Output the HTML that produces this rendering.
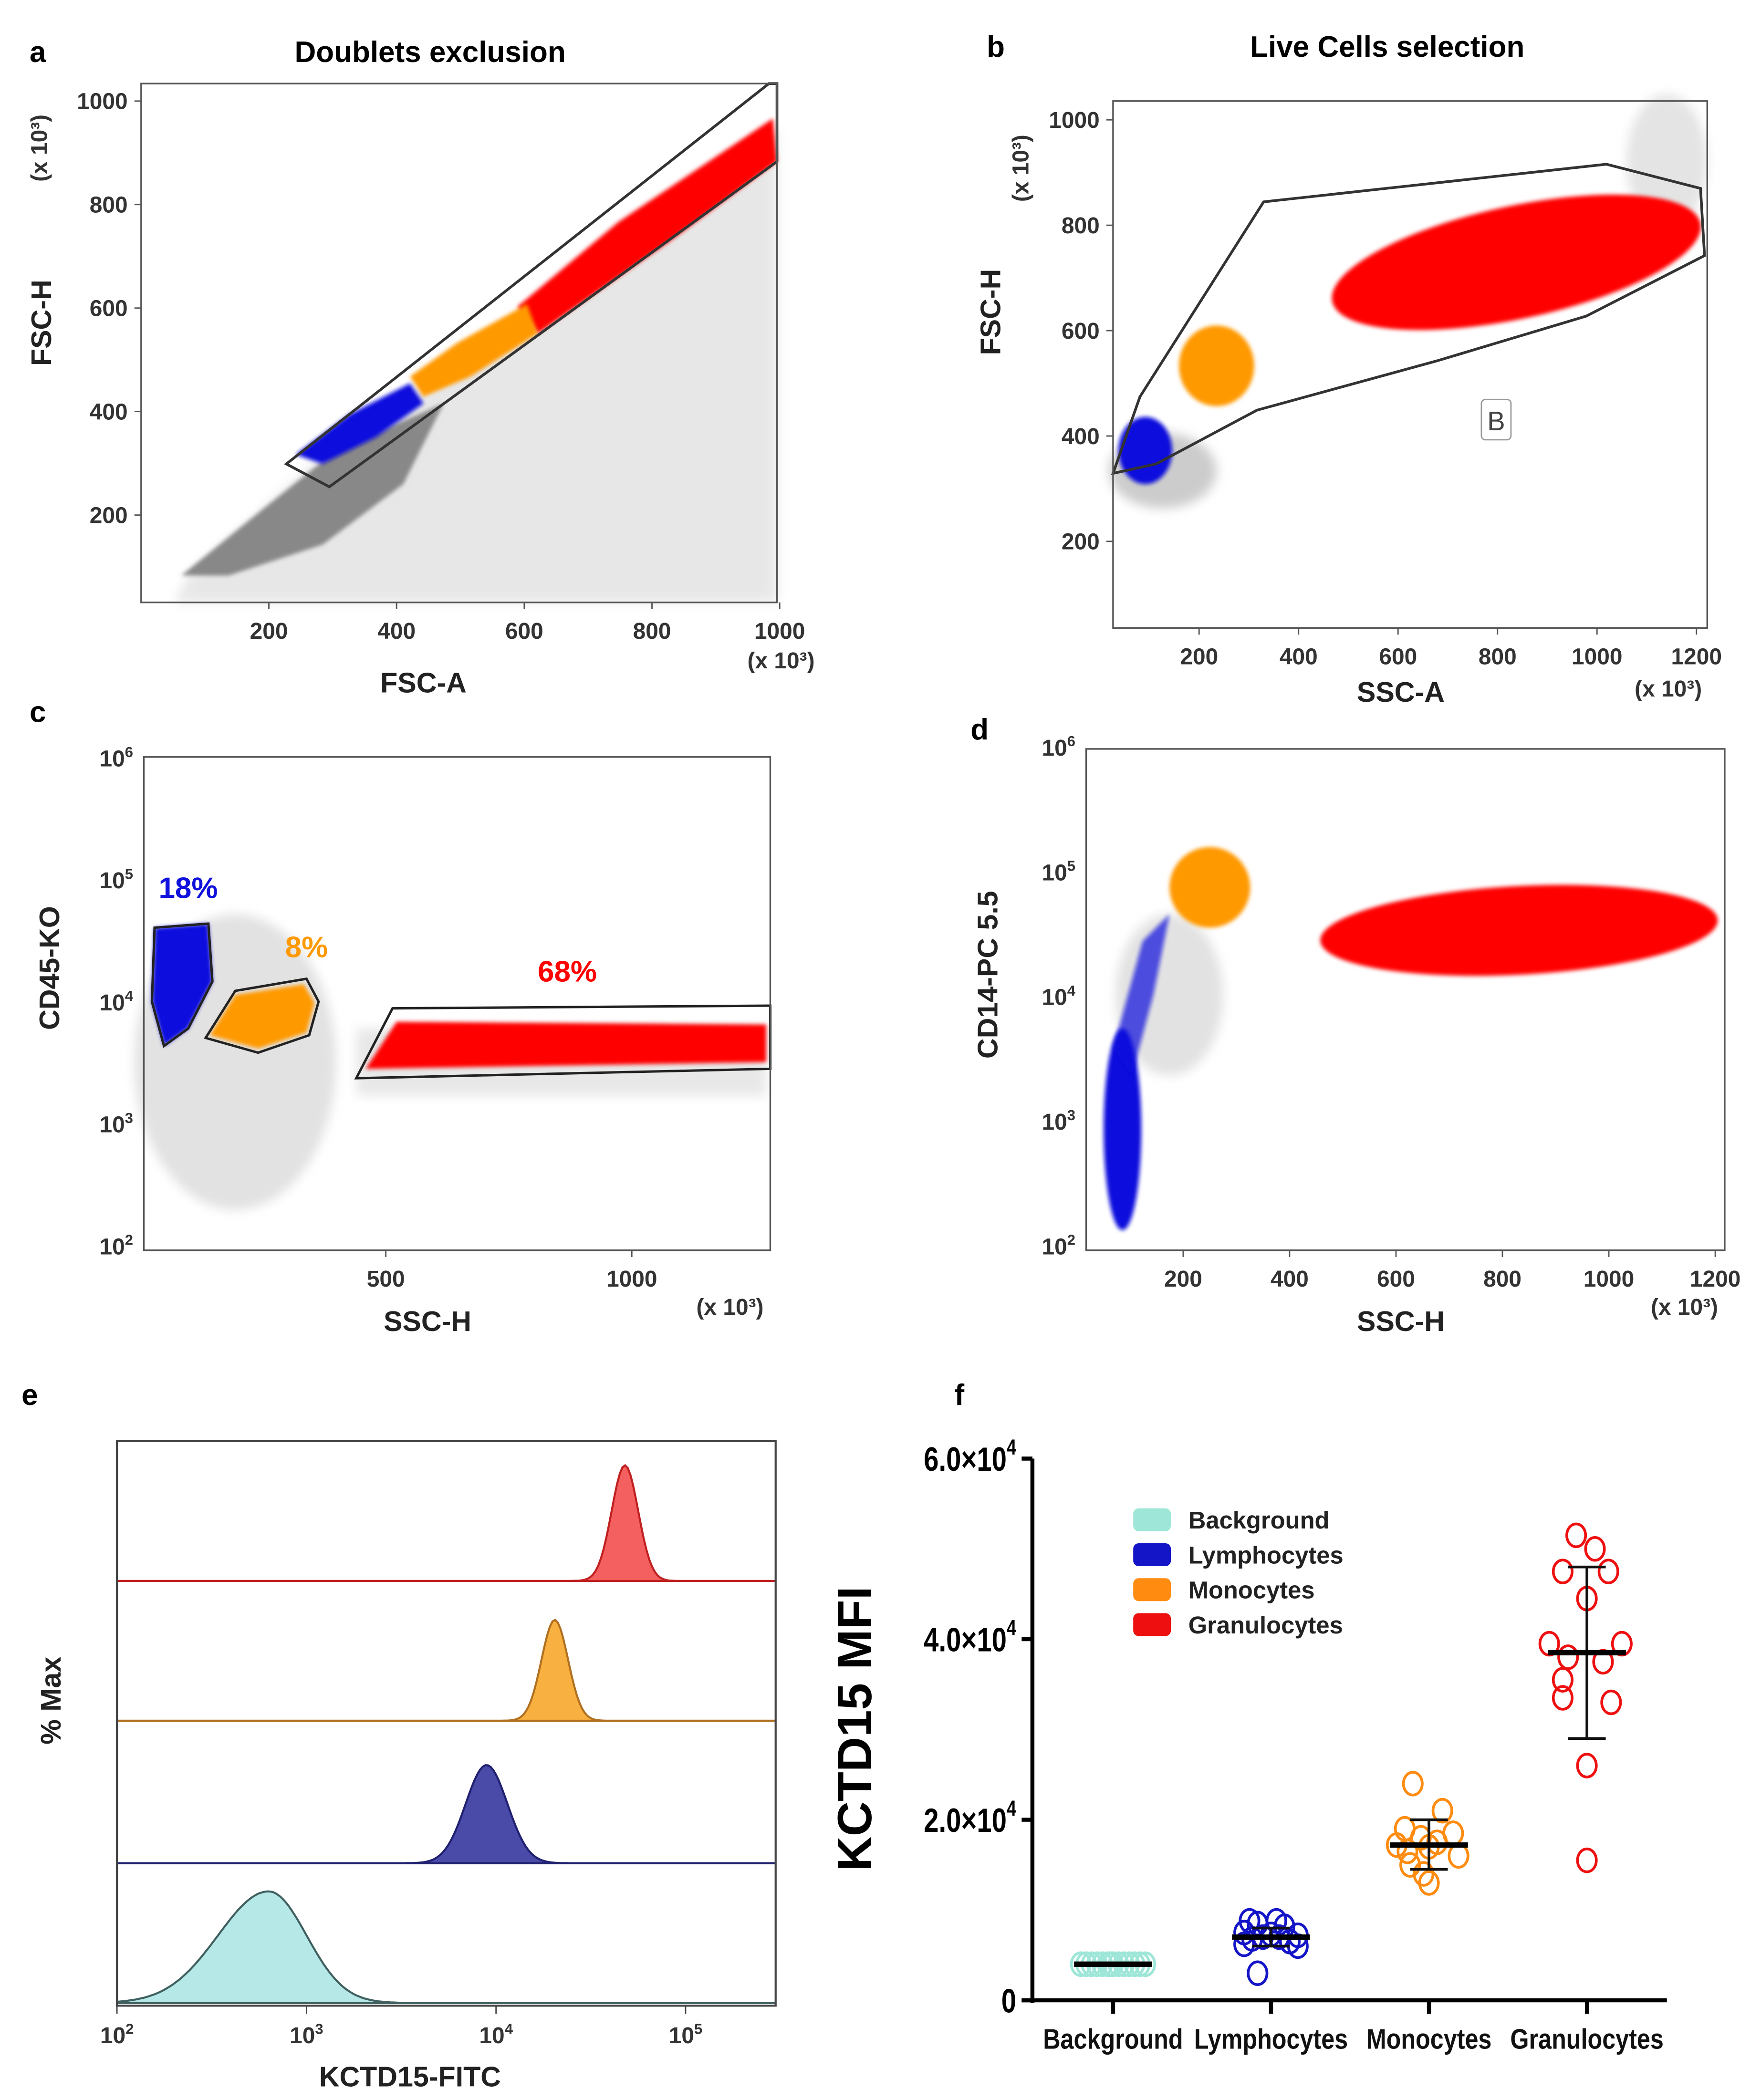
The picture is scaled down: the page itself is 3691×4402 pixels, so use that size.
<!DOCTYPE html>
<html><head><meta charset="utf-8"><style>
html,body{margin:0;padding:0;background:#fff}
svg{display:block}
text{font-family:"Liberation Sans",sans-serif}
.tk{font-size:17px;font-weight:bold;fill:#333}
.ax{font-size:21px;font-weight:bold;fill:#222}
.pl{font-size:22px;font-weight:bold;fill:#000}
</style></head><body>
<svg id="fig" width="3691" height="4402" viewBox="0 0 1310 1562" xmlns="http://www.w3.org/2000/svg">
<defs><filter id="bl" x="-20%" y="-20%" width="140%" height="140%"><feGaussianBlur stdDeviation="4"/></filter>
<filter id="bl2" x="-20%" y="-20%" width="140%" height="140%"><feGaussianBlur stdDeviation="1.5"/></filter></defs>

<!-- Panel a -->
<g>
<text class="pl" x="22" y="46">a</text>
<text class="pl" x="320" y="46" text-anchor="middle">Doublets exclusion</text>
<polygon points="140,428 250,330 400,235 578,95 578,448 130,448" fill="#ccc" opacity="0.45" filter="url(#bl)"/>
<polygon points="135,428 200,375 250,335 330,300 300,360 240,405 170,428" fill="#888" filter="url(#bl2)"/>
<polygon points="385,228 460,165 575,88 578,120 500,178 400,248" fill="#f00" filter="url(#bl2)"/>
<polygon points="305,280 340,255 392,226 400,248 350,280 315,295" fill="#f90" filter="url(#bl2)"/>
<polygon points="220,338 260,308 305,285 315,300 280,325 240,345" fill="#11d" filter="url(#bl2)"/>
<polygon points="213,345 572,62 578,62 578,120 245,362" fill="none" stroke="#333" stroke-width="2"/>
<rect x="105" y="62" width="473" height="386" fill="none" stroke="#555" stroke-width="1.2"/>
<text class="ax" x="315" y="515" text-anchor="middle">FSC-A</text>
<text class="ax" transform="translate(38,240) rotate(-90)" text-anchor="middle">FSC-H</text>
<text class="tk" transform="translate(35,110) rotate(-90)" text-anchor="middle" font-weight="normal">(x 10³)</text>
<text class="tk" x="556" y="497" font-weight="normal">(x 10³)</text>
<g id="ta"></g>
</g>

<!-- Panel b -->
<g>
<text class="pl" x="734" y="42">b</text>
<text class="pl" x="1032" y="42" text-anchor="middle">Live Cells selection</text>
<ellipse cx="865" cy="350" rx="40" ry="28" fill="#ccc" filter="url(#bl)"/>
<ellipse cx="1240" cy="120" rx="30" ry="50" fill="#e4e4e4" filter="url(#bl)"/>
<ellipse cx="1128" cy="195" rx="140" ry="42" transform="rotate(-12 1128 195)" fill="#f00" filter="url(#bl2)"/>
<ellipse cx="905" cy="272" rx="28" ry="30" fill="#f90" filter="url(#bl2)"/>
<ellipse cx="852" cy="335" rx="20" ry="25" fill="#11d" filter="url(#bl2)"/>
<polygon points="828,352 848,295 940,150 1195,122 1265,140 1268,190 1180,235 1070,268 935,305 860,345" fill="none" stroke="#333" stroke-width="2"/>
<rect x="1102" y="297" width="22" height="30" rx="3" fill="#fff" stroke="#999"/>
<text x="1113" y="320" text-anchor="middle" font-size="20" fill="#444">B</text>
<rect x="828" y="75" width="442" height="392" fill="none" stroke="#555" stroke-width="1.2"/>
<text class="ax" x="1042" y="522" text-anchor="middle">SSC-A</text>
<text class="ax" transform="translate(744,232) rotate(-90)" text-anchor="middle">FSC-H</text>
<text class="tk" transform="translate(765,125) rotate(-90)" text-anchor="middle" font-weight="normal">(x 10³)</text>
<text class="tk" x="1216" y="518" font-weight="normal">(x 10³)</text>
<g id="tb"></g>
</g>

<!-- Panel c -->
<g>
<text class="pl" x="22" y="537">c</text>
<ellipse cx="175" cy="790" rx="75" ry="110" fill="#e2e2e2" filter="url(#bl)"/>
<rect x="265" y="765" width="305" height="50" fill="#e8e8e8" filter="url(#bl)"/>
<polygon points="115,690 155,687 158,730 140,765 122,778 113,745" fill="#11d" filter="url(#bl2)"/>
<polygon points="156,770 175,740 226,732 234,746 228,768 192,780" fill="#f90" filter="url(#bl2)"/>
<polygon points="272,795 295,760 570,762 570,790" fill="#f00" filter="url(#bl2)"/>
<polygon points="115,690 155,687 158,730 140,765 122,778 113,745" fill="none" stroke="#222" stroke-width="1.8"/>
<polygon points="153,772 175,737 228,728 237,745 230,770 192,783" fill="none" stroke="#222" stroke-width="1.8"/>
<polygon points="265,802 292,750 573,748 573,795" fill="none" stroke="#222" stroke-width="1.8"/>
<text x="140" y="668" text-anchor="middle" font-size="22" font-weight="bold" fill="#11d">18%</text>
<text x="228" y="712" text-anchor="middle" font-size="22" font-weight="bold" fill="#f90">8%</text>
<text x="422" y="730" text-anchor="middle" font-size="22" font-weight="bold" fill="#f00">68%</text>
<rect x="107" y="563" width="466" height="367" fill="none" stroke="#555" stroke-width="1.2"/>
<text class="ax" x="318" y="990" text-anchor="middle">SSC-H</text>
<text class="ax" transform="translate(44,720) rotate(-90)" text-anchor="middle">CD45-KO</text>
<text class="tk" x="518" y="978" font-weight="normal">(x 10³)</text>
<g id="tc"></g>
</g>

<!-- Panel d -->
<g>
<text class="pl" x="722" y="550">d</text>
<ellipse cx="870" cy="740" rx="40" ry="60" fill="#e2e2e2" filter="url(#bl)"/>
<ellipse cx="835" cy="840" rx="14" ry="75" fill="#11d" filter="url(#bl2)"/>
<polygon points="828,780 850,700 870,680 858,740 842,800" fill="#11d" opacity="0.7" filter="url(#bl2)"/>
<ellipse cx="900" cy="660" rx="30" ry="30" fill="#f90" filter="url(#bl2)"/>
<ellipse cx="1130" cy="692" rx="148" ry="33" transform="rotate(-3 1130 692)" fill="#f00" filter="url(#bl2)"/>
<rect x="808" y="557" width="475" height="373" fill="none" stroke="#555" stroke-width="1.2"/>
<text class="ax" x="1042" y="990" text-anchor="middle">SSC-H</text>
<text class="ax" transform="translate(742,725) rotate(-90)" text-anchor="middle">CD14-PC 5.5</text>
<text class="tk" x="1228" y="978" font-weight="normal">(x 10³)</text>
<g id="td"></g>
</g>

<!-- Panel e -->
<g>
<text class="pl" x="16" y="1045">e</text>
<g id="hist"></g>
<rect x="87" y="1072" width="490" height="420" fill="none" stroke="#444" stroke-width="1.5"/>
<text class="ax" x="305" y="1552" text-anchor="middle">KCTD15-FITC</text>
<text class="ax" transform="translate(45,1265) rotate(-90)" text-anchor="middle">% Max</text>
<g id="te"></g>
</g>

<!-- Panel f -->
<g>
<text class="pl" x="710" y="1045">f</text>
<text transform="translate(648,1286) rotate(-90)" text-anchor="middle" font-size="36" font-weight="bold" fill="#000">KCTD15 MFI</text>
<g id="dots"></g>
<g id="legend"></g>
</g>
</svg>
<script>
const NS="http://www.w3.org/2000/svg";
function mk(par,tag,at,txt){const e=document.createElementNS(NS,tag);for(const k in at)e.setAttribute(k,at[k]);if(txt!==undefined)e.textContent=txt;par.appendChild(e);return e;}

const aXTicks=[200,400,600,800,1000];
const aYTicks=[200,400,600,800,1000];
const bXTicks=[200,400,600,800,1000,1200];
const bYTicks=[200,400,600,800,1000];
const cXTicks=[500,1000];
const logTicks=[2,3,4,5,6];
const dXTicks=[200,400,600,800,1000,1200];
const eXTicks=[2,3,4,5];

function linTicks(g,ticks,f,y0,isX,x0){
  ticks.forEach(v=>{const p=f(v);
    if(isX){const l=mk(g,'line',{x1:p,x2:p,y1:y0,y2:y0+5,stroke:'#555'});
      
      const t=mk(g,'text',{x:p,y:y0+27,'text-anchor':'middle',class:'tk'},v);
      }
    else{const l=mk(g,'line',{x1:x0-5,x2:x0,y1:p,y2:p,stroke:'#555'});
      
      const t=mk(g,'text',{x:x0-10,y:p+6,'text-anchor':'end',class:'tk'},v);
      }
  });
}
function logY(g,f,x0){
  logTicks.forEach(v=>{const p=f(v);
    const t=mk(g,'text',{x:x0-8,y:p+5,'text-anchor':'end',class:'tk','font-weight':'normal','font-size':'15'});
    
    mk(t,'tspan',{},'10');mk(t,'tspan',{dy:-7,'font-size':'11'},v);
  });
}
const ta=document.getElementById('ta');
linTicks(ta,aXTicks,v=>105+v*0.475,448,true);
linTicks(ta,aYTicks,v=>75+(1000-v)*0.385,0,false,105);
const tb=document.getElementById('tb');
linTicks(tb,bXTicks,v=>818+v*0.37,467,true);
linTicks(tb,bYTicks,v=>481-v*0.392,0,false,828);
const tc=document.getElementById('tc');
linTicks(tc,cXTicks,v=>104+v*0.366,930,true);
logY(tc,v=>928-(v-2)*90.75,107);
const td=document.getElementById('td');
linTicks(td,dXTicks,v=>801+v*0.3958,930,true);
logY(td,v=>928-(v-2)*92.75,808);

const histNames=['granulocytes','monocytes','lymphocytes','background'];
const histPeakLog=[4.68,4.31,3.95,2.8];
const histWidthLog=[0.07,0.07,0.11,0.2];
const histBase=[1176,1280,1386,1490];
const histHeight=[86,75,73,83];
const histFill=['#f46060','#f8b040','#4a4aa8','#b6e8e8'];
const histStroke=['#c02020','#b07020','#202070','#406060'];
const ex=v=>87+(v-2)*141;
const te=document.getElementById('te');
eXTicks.forEach(v=>{const p=ex(v);
  const l=mk(te,'line',{x1:p,x2:p,y1:1492,y2:1498,stroke:'#444'});
  
  const t=mk(te,'text',{x:p,y:1520,'text-anchor':'middle',class:'tk','font-weight':'normal','font-size':'15'});
  
  mk(t,'tspan',{},'10');mk(t,'tspan',{dy:-7,'font-size':'11'},v);});
const hg=document.getElementById('hist');
histNames.forEach((n,i)=>{
  const bl=mk(hg,'line',{x1:87,x2:577,y1:histBase[i],y2:histBase[i],stroke:histStroke[i],'stroke-width':1.5});
  
  let d='M87,'+histBase[i];
  for(let x=87;x<=577;x+=2){const lv=2+(x-87)/141;
    let z=(lv-histPeakLog[i])/histWidthLog[i];
    if(i===3&&z<0)z=z*0.75;
    d+=' L'+x+','+(histBase[i]-histHeight[i]*Math.exp(-z*z/2)).toFixed(1);}
  d+=' L577,'+histBase[i]+' Z';
  const p=mk(hg,'path',{d:d,fill:histFill[i],stroke:histStroke[i],'stroke-width':1.5});
  
});

const categories=['Background','Lymphocytes','Monocytes','Granulocytes'];
const catColors=['#9ee6d8','#1515c8','#ff8c10','#ee1010'];
const bgVals=[4000,4000,4000,4000,4000,4000,4000,4000,4000,4000,4000,4000,4000,4000];
const lymVals=[8800,8800,8500,8200,7500,7200,7000,7000,6800,6500,6200,6000,7300,3000];
const monVals=[24000,21000,19000,18500,18000,17500,17200,17000,16500,16000,15000,14000,13000];
const graVals=[51500,50000,47500,47500,44500,39500,39500,38000,37500,35500,33500,33000,26000,15500];
const catMeans=[4000,7000,17200,38500];
const catErrLo=[4000,6000,14500,29000];
const catErrHi=[4000,8000,20000,48000];
const yTicksF=[0,20000,40000,60000];
const yTickLabF=['0','2.0×10','4.0×10','6.0×10'];
const values=[bgVals,lymVals,monVals,graVals];
const jit=[[-24,-20,-16,-12,-8,-4,0,4,8,12,16,20,24,-2],[-16,4,-10,10,-20,20,-6,6,-14,14,-20,20,0,-10],[-12,10,-18,18,-6,6,-24,0,-16,22,-14,-4,0],[-8,6,-18,16,0,-28,26,-14,12,-18,-18,18,0,0]];
const fx0=768,fx1=1240,fyb=1488,fyt=1085;
const fy=v=>fyb-v/60000*(fyb-fyt);
const fxc=i=>828+i*117.5;
const dg=document.getElementById('dots');
const ya=mk(dg,'line',{x1:fx0,x2:fx0,y1:fyt,y2:fyb+2,stroke:'#000','stroke-width':3});

const xa=mk(dg,'line',{x1:fx0-8,x2:fx1,y1:fyb,y2:fyb,stroke:'#000','stroke-width':3});

yTicksF.forEach((v,i)=>{const p=fy(v);
  const l=mk(dg,'line',{x1:fx0-8,x2:fx0,y1:p,y2:p,stroke:'#000','stroke-width':3});
  
  const t=mk(dg,'text',{x:fx0-12,y:p+9,'text-anchor':'end','font-size':'25','font-weight':'bold',fill:'#000',transform:'translate('+(fx0-12)+','+(p+9)+') scale(0.8,1) translate('+(-(fx0-12))+','+(-(p+9))+')'});
  
  mk(t,'tspan',{},yTickLabF[i]);if(i>0)mk(t,'tspan',{dy:-12,'font-size':'16'},'4');
});
categories.forEach((c,i)=>{const cx=fxc(i);
  const l=mk(dg,'line',{x1:cx,x2:cx,y1:fyb,y2:fyb+10,stroke:'#000','stroke-width':3});
  
  const t=mk(dg,'text',{x:cx,y:1524,'text-anchor':'middle','font-size':'21','font-weight':'bold',fill:'#111',transform:'translate('+cx+',0) scale(0.85,1) translate('+(-cx)+',0)'},c);
  
  values[i].forEach((v,k)=>{
    const pt=mk(dg,'ellipse',{cx:cx+jit[i][k],cy:fy(v),rx:7,ry:8.5,fill:'none',stroke:catColors[i],'stroke-width':2});
    
  });
  const eb=mk(dg,'path',{d:'M'+(cx-14)+','+fy(catErrHi[i])+' H'+(cx+14)+' M'+cx+','+fy(catErrHi[i])+' V'+fy(catErrLo[i])+' M'+(cx-14)+','+fy(catErrLo[i])+' H'+(cx+14),stroke:'#111','stroke-width':2,fill:'none'});
  
  const m=mk(dg,'line',{x1:cx-29,x2:cx+29,y1:fy(catMeans[i]),y2:fy(catMeans[i]),stroke:'#000','stroke-width':4});
  
});
const lg=document.getElementById('legend');
categories.forEach((c,i)=>{const y=1122+i*26;
  const r=mk(lg,'rect',{x:843,y:y,width:28,height:17,rx:4,fill:catColors[i]});
  
  const t=mk(lg,'text',{x:884,y:y+15,'font-size':'18','font-weight':'bold',fill:'#222'},c);
  
});
</script>
</body></html>
